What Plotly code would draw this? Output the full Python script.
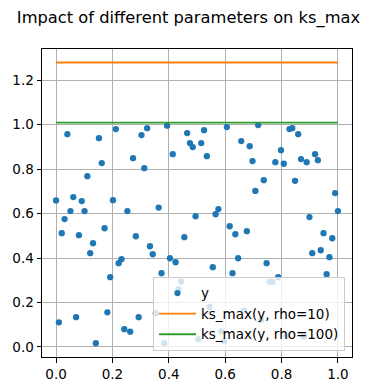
import plotly.graph_objects as go

x = [0.000, 0.010, 0.020, 0.030, 0.040, 0.051, 0.061, 0.071, 0.081, 0.091,
     0.101, 0.111, 0.121, 0.131, 0.141, 0.152, 0.162, 0.172, 0.182, 0.192,
     0.202, 0.212, 0.222, 0.232, 0.242, 0.253, 0.263, 0.273, 0.283, 0.293,
     0.303, 0.313, 0.323, 0.333, 0.343, 0.354, 0.364, 0.374, 0.384, 0.394,
     0.404, 0.414, 0.424, 0.434, 0.444, 0.455, 0.465, 0.475, 0.485, 0.495,
     0.505, 0.515, 0.525, 0.535, 0.545, 0.556, 0.566, 0.576, 0.586, 0.596,
     0.606, 0.616, 0.626, 0.636, 0.646, 0.657, 0.667, 0.677, 0.687, 0.697,
     0.707, 0.717, 0.727, 0.737, 0.747, 0.758, 0.768, 0.778, 0.788, 0.798,
     0.808, 0.818, 0.828, 0.838, 0.848, 0.859, 0.869, 0.879, 0.889, 0.899,
     0.909, 0.919, 0.929, 0.939, 0.949, 0.960, 0.970, 0.980, 0.990, 1.000]

y = [0.659, 0.111, 0.512, 0.575, 0.957, 0.611, 0.674, 0.134, 0.503, 0.656,
     0.611, 0.768, 0.422, 0.467, 0.017, 0.939, 0.827, 0.534, 0.156, 0.314,
     0.660, 0.980, 0.377, 0.395, 0.080, 0.611, 0.069, 0.849, 0.498, 0.134,
     0.953, 0.804, 0.984, 0.453, 0.417, 0.152, 0.627, 0.332, 0.017, 0.995,
     0.399, 0.867, 0.381, 0.260, 0.294, 0.494, 0.962, 0.917, 0.899, 0.588,
     0.035, 0.917, 0.975, 0.858, 0.181, 0.359, 0.597, 0.620, 0.070, 0.026,
     0.989, 0.543, 0.332, 0.507, 0.399, 0.926, 0.165, 0.521, 0.903, 0.836,
     0.702, 0.998, 0.120, 0.750, 0.377, 0.294, 0.292, 0.831, 0.314, 0.885,
     0.824, 0.050, 0.980, 0.984, 0.747, 0.957, 0.845, 0.046, 0.831, 0.584,
     0.422, 0.867, 0.840, 0.435, 0.512, 0.327, 0.404, 0.489, 0.692, 0.611]

ks_rho10 = 1.279
ks_rho100 = 1.009
line_x = [0.0, 1.0]

x_ticks = [0.0, 0.2, 0.4, 0.6, 0.8, 1.0]
x_tick_labels = ["0.0", "0.2", "0.4", "0.6", "0.8", "1.0"]
y_ticks = [0.0, 0.2, 0.4, 0.6, 0.8, 1.0, 1.2]
y_tick_labels = ["0.0", "0.2", "0.4", "0.6", "0.8", "1.0", "1.2"]

FONT = "DejaVu Sans"

fig = go.Figure()
fig.add_trace(go.Scatter(x=x, y=y, mode="markers", name="y",
                         marker=dict(color="#1f77b4", size=6.3, line=dict(width=0))))
fig.add_trace(go.Scatter(x=line_x, y=[ks_rho10] * len(line_x), mode="lines",
                         name="ks_max(y, rho=10)",
                         line=dict(color="#ff7f0e", width=1.9)))
fig.add_trace(go.Scatter(x=line_x, y=[ks_rho100] * len(line_x), mode="lines",
                         name="ks_max(y, rho=100)",
                         line=dict(color="#2ca02c", width=1.9)))

axis_common = dict(
    showgrid=True, gridcolor="#b0b0b0", gridwidth=1,
    showline=True, linecolor="black", linewidth=1, mirror=True,
    ticks="outside", ticklen=4.5, tickwidth=1, tickcolor="black",
    tickfont=dict(family=FONT, size=13.5, color="black"),
    zeroline=False, automargin=False,
)

fig.update_layout(
    width=377, height=391,
    margin=dict(l=42, r=25, t=49, b=34),
    paper_bgcolor="white", plot_bgcolor="white",
    font=dict(family=FONT, color="black"),
    title=dict(text="Impact of different parameters on ks_max",
               font=dict(family=FONT, size=16.3, color="black"),
               x=0.5, xref="container", xanchor="center",
               y=1 - 17 / 391, yref="container", yanchor="middle"),
    xaxis=dict(range=[-0.05, 1.05], tickvals=x_ticks, ticktext=x_tick_labels, **axis_common),
    yaxis=dict(range=[-0.045, 1.34], tickvals=y_ticks, ticktext=y_tick_labels, **axis_common),
    legend=dict(x=0.358, y=0.02, xanchor="left", yanchor="bottom",
                bgcolor="rgba(255,255,255,0.8)", bordercolor="#cccccc", borderwidth=1,
                font=dict(family=FONT, size=13.5, color="black"),
                itemwidth=37, tracegroupgap=0),
    showlegend=True,
)

fig.write_html("out.html",
               config={"displayModeBar": False},
               post_script="document.body.style.margin='0';document.body.style.padding='0';")
